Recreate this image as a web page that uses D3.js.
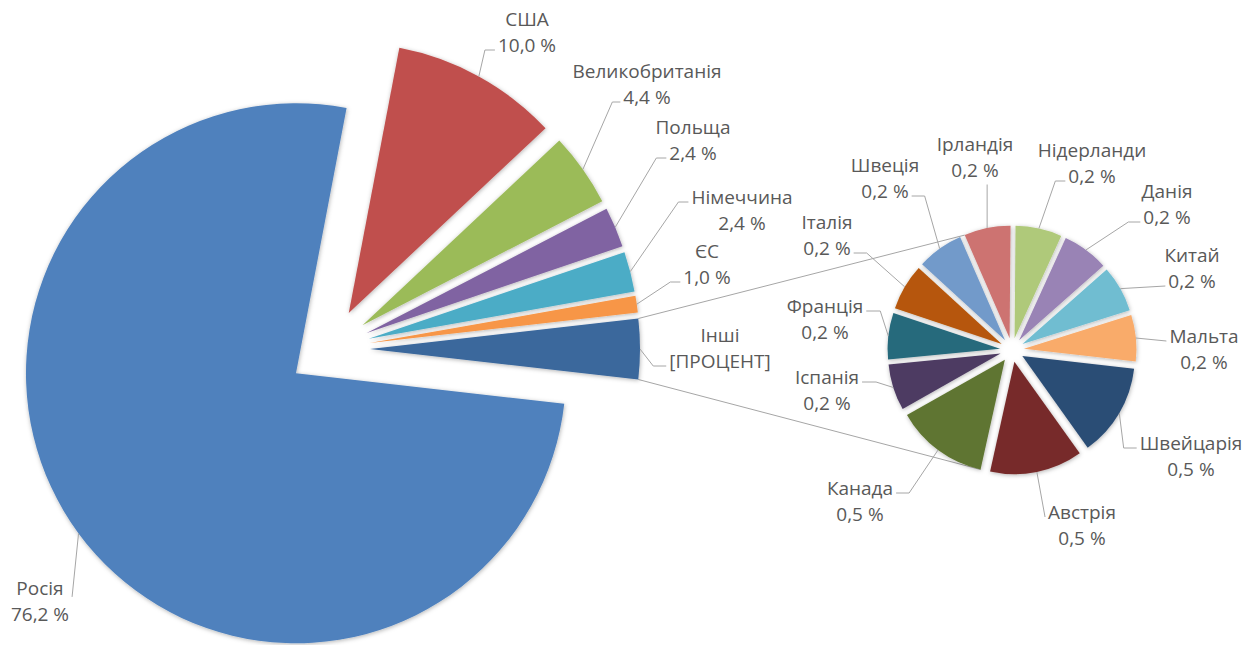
<!DOCTYPE html>
<html><head><meta charset="utf-8">
<script src="https://cdn.jsdelivr.net/npm/d3@7"></script>
<style>
body{margin:0;background:#fff;}
svg text{font-family:"Open Sans",sans-serif;font-size:19px;fill:#595959;}
</style>
</head><body>
<svg id="chart" width="1258" height="645"></svg>
<script>
// ---------- data ----------
const mainCategories = ["Росія", "США", "Великобританія", "Польща", "Німеччина", "ЄС", "Інші"];
const mainValues = [76.2, 10.0, 4.4, 2.4, 2.4, 1.0, 3.6];
const othersValueText = "[ПРОЦЕНТ]";
const subCategories = ["Швейцарія", "Австрія", "Канада", "Іспанія", "Франція", "Італія", "Швеція", "Ірландія", "Нідерланди", "Данія", "Китай", "Мальта"];
const subValues = [0.48, 0.48, 0.48, 0.24, 0.24, 0.24, 0.24, 0.24, 0.24, 0.24, 0.24, 0.24];

// ---------- colours (Office theme accents and their shades) ----------
const accents = ["#4F81BD", "#C0504D", "#9BBB59", "#8064A2", "#4BACC6", "#F79646"];
const shade = (c, mod, off) => { const h = d3.hsl(c); h.l = h.l * mod + off; return h.formatHex(); };
const mainColors = accents.concat([shade(accents[0], 0.8, 0)]);
const subColors = accents.map(c => shade(c, 0.6, 0)).concat(accents.map(c => shade(c, 0.8, 0.2)));

// ---------- layout ----------
const MAIN = {cx: 329, cy: 349, r: 270, explode: 41};
const SUB = {cx: 1012, cy: 350, r: 112.5, explode: 12};
const LH = 26;
// label layout: x centre, y of first line centre, side leader attaches, line of attachment, horizontal tail
const mainLabelLayout = [
  {x: 40, y: 588, side: "R", line: 0.15, h: 0},
  {x: 527, y: 19, side: "L", line: 1, h: 10},
  {x: 647, y: 71, side: "L", line: 1, h: 8},
  {x: 693, y: 127, side: "L", line: 1, h: 10},
  {x: 742, y: 197, side: "L", line: 0, h: 10},
  {x: 707, y: 251, side: "L", line: 1, h: 10},
  {x: 720, y: 335, side: "L", line: 1, h: 13}
];
const subLabelLayout = [
  {x: 1191, y: 443, side: "L", line: 0, h: 13},
  {x: 1082, y: 512, side: "L", line: 0, h: 0},
  {x: 860, y: 488, side: "R", line: 0, h: 13},
  {x: 827, y: 377, side: "R", line: 0, h: 14},
  {x: 825, y: 306, side: "R", line: 0, h: 14},
  {x: 827, y: 222, side: "R", line: 1, h: 13},
  {x: 885, y: 165, side: "R", line: 1, h: 13},
  {x: 975, y: 144, side: "B", line: 1, h: 0},
  {x: 1092, y: 150, side: "L", line: 1, h: 10},
  {x: 1167, y: 191, side: "L", line: 1, h: 12},
  {x: 1192, y: 255, side: "L", line: 1, h: 0},
  {x: 1204, y: 336, side: "L", line: 0, h: 0}
];

const fmtPct = v => d3.format(".1f")(v).replace(".", ",") + " %";

const svg = d3.select("#chart");
const defs = svg.append("defs");
const f = defs.append("filter").attr("id", "sh").attr("x", "-20%").attr("y", "-20%").attr("width", "140%").attr("height", "140%");
f.append("feDropShadow").attr("dx", 0.5).attr("dy", 1).attr("stdDeviation", 2)
  .attr("flood-color", "#000").attr("flood-opacity", 0.3);

const total = d3.sum(mainValues);
const a0 = Math.PI / 2 + (mainValues[mainValues.length - 1] / total) * Math.PI;
const pie = d3.pie().sort(null).value(d => d).startAngle(a0).endAngle(a0 + 2 * Math.PI);
const mainArcs = pie(mainValues);
const subArcs = pie(subValues);

const dir = a => [Math.sin(a), -Math.cos(a)];
function apex(P, d) {
  const m = (d.startAngle + d.endAngle) / 2, u = dir(m);
  return [P.cx + P.explode * u[0], P.cy + P.explode * u[1]];
}
function pointAt(P, d, a, rr) {
  const c = apex(P, d), u = dir(a);
  return [c[0] + rr * u[0], c[1] + rr * u[1]];
}

// ---------- connector (series) lines ----------
const othersArc = mainArcs[mainArcs.length - 1];
const topIdx = subArcs.findIndex(d => d.startAngle <= 2 * Math.PI && d.endAngle > 2 * Math.PI);
const botIdx = subArcs.findIndex(d => d.startAngle >= Math.PI);
const conn = [
  [pointAt(MAIN, othersArc, othersArc.startAngle, MAIN.r), pointAt(SUB, subArcs[topIdx], subArcs[topIdx].startAngle, SUB.r)],
  [pointAt(MAIN, othersArc, othersArc.endAngle, MAIN.r), pointAt(SUB, subArcs[botIdx], subArcs[botIdx].startAngle, SUB.r)]
];
svg.append("g").selectAll("line").data(conn).join("line")
  .attr("x1", d => d[0][0]).attr("y1", d => d[0][1])
  .attr("x2", d => d[1][0]).attr("y2", d => d[1][1])
  .attr("stroke", "#A6A6A6").attr("stroke-width", 1);

// ---------- slices ----------
function drawPie(P, arcs, colors) {
  const arc = d3.arc().innerRadius(0).outerRadius(P.r);
  svg.append("g").attr("filter", "url(#sh)").selectAll("path").data(arcs).join("path")
    .attr("transform", d => { const c = apex(P, d); return `translate(${c[0]},${c[1]})`; })
    .attr("d", arc)
    .attr("fill", (d, i) => colors[i]);
}
drawPie(MAIN, mainArcs, mainColors);
drawPie(SUB, subArcs, subColors);

// ---------- labels with leader lines ----------
const gLines = svg.append("g");
const gText = svg.append("g");
function drawLabels(P, arcs, cats, valTexts, layout) {
  arcs.forEach((d, i) => {
    const L = layout[i];
    const t = gText.append("text").attr("text-anchor", "middle");
    const s0 = t.append("tspan").attr("x", L.x).attr("y", L.y + 6.5).text(cats[i]);
    const s1 = t.append("tspan").attr("x", L.x).attr("y", L.y + LH + 6.5).text(valTexts[i]);
    const whole = t.node().getBBox();
    const bb = Number.isInteger(L.line) ? (L.line === 0 ? s0 : s1).node().getBBox() : whole;
    const m = (d.startAngle + d.endAngle) / 2;
    const s = pointAt(P, d, m, P.r);
    let pts;
    if (L.side === "B") {
      pts = [s, [s[0], whole.y + whole.height + 2]];
    } else {
      const ay = L.y + L.line * LH + 5;
      const ex = L.side === "L" ? bb.x - 3 : bb.x + bb.width + 3;
      const elx = L.side === "L" ? ex - L.h : ex + L.h;
      pts = [s, [elx, ay], [ex, ay]];
    }
    gLines.append("path").attr("d", d3.line()(pts))
      .attr("fill", "none").attr("stroke", "#A6A6A6").attr("stroke-width", 1);
  });
}
const mainValTexts = mainValues.map((v, i) => i === mainValues.length - 1 ? othersValueText : fmtPct(v));
drawLabels(MAIN, mainArcs, mainCategories, mainValTexts, mainLabelLayout);
drawLabels(SUB, subArcs, subCategories, subValues.map(fmtPct), subLabelLayout);
</script>
</body></html>
